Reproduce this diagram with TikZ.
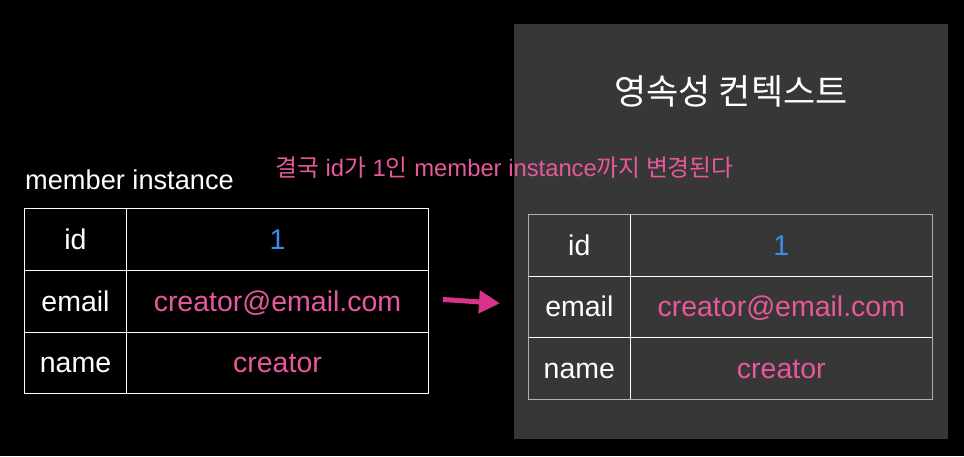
\documentclass[tikz,border=0pt]{standalone}
\usepackage{fontspec}
\setmainfont{Liberation Sans}
\newfontfamily\kr{Noto Sans CJK KR}
\usetikzlibrary{arrows.meta}
\definecolor{pinktxt}{HTML}{E8589C}
\definecolor{bluetxt}{HTML}{3D8EEA}
\definecolor{panel}{HTML}{373737}
\definecolor{arrowc}{HTML}{D6338A}
\definecolor{gborder}{HTML}{B0B0B0}
\begin{document}
\begin{tikzpicture}[x=1pt,y=-1pt,
  cell/.style={text=white,anchor=base,inner sep=0pt,font=\fontsize{28.5}{31}\selectfont},
  val/.style={anchor=base,inner sep=0pt,font=\fontsize{28.5}{31}\selectfont}]
\useasboundingbox (0,0) rectangle (964,456);
\fill[black] (0,0) rectangle (964,456);
% right panel
\fill[panel] (514,24) rectangle (948,439);
\node[text=white,font=\kr\fontsize{35}{39}\selectfont,inner sep=0pt] (title) at (731,91.5) {영속성 컨텍스트};
% pink note
\node[anchor=base west,inner sep=0pt,text=pinktxt,font=\fontsize{23.8}{26}\selectfont] (note) at (275,176)
  {{\kr 결국} id{\kr 가} 1{\kr 인} member instance{\kr 까지 변경된다}};
% left table
\node[anchor=base west,inner sep=0pt,text=white,font=\fontsize{27.2}{30}\selectfont] (lbl) at (25,189.3) {member instance};
\draw[white,line width=1pt] (24.5,208.5) rectangle (428.5,393.5);
\draw[white,line width=1pt] (126.5,208.5) -- (126.5,393.5);
\draw[white,line width=1pt] (24.5,270.3) -- (428.5,270.3);
\draw[white,line width=1pt] (24.5,332.3) -- (428.5,332.3);
\node[cell] (lk1) at (75.5,249.3) {id};
\node[cell] (lk2) at (75.5,311.3) {email};
\node[cell] (lk3) at (75.5,372.5) {name};
\node[val,text=bluetxt] (lv1) at (277.5,249.3) {1};
\node[val,text=pinktxt] (lv2) at (277.5,311.3) {creator@email.com};
\node[val,text=pinktxt] (lv3) at (277.5,372.5) {creator};
% right table
\draw[white,line width=1pt] (630.3,214.3) -- (630.3,399.3);
\draw[white,line width=1pt] (528.3,276.3) -- (932.3,276.3);
\draw[white,line width=1pt] (528.3,337) -- (932.3,337);
\draw[gborder,line width=1pt] (528.3,214.3) rectangle (932.3,399.3);
\node[cell] (rk1) at (579.3,255.3) {id};
\node[cell] (rk2) at (579.3,316.9) {email};
\node[cell] (rk3) at (579.3,378.3) {name};
\node[val,text=bluetxt] (rv1) at (781.3,255.3) {1};
\node[val,text=pinktxt] (rv2) at (781.3,316.9) {creator@email.com};
\node[val,text=pinktxt] (rv3) at (781.3,378.3) {creator};
% arrow
\coordinate (a1) at (443,299.5);
\coordinate (a2) at (500,303.3);
\draw[arrowc,line width=5pt,-{Triangle[length=21pt,width=22pt]}] (a1) -- (a2);
\end{tikzpicture}
\end{document}
